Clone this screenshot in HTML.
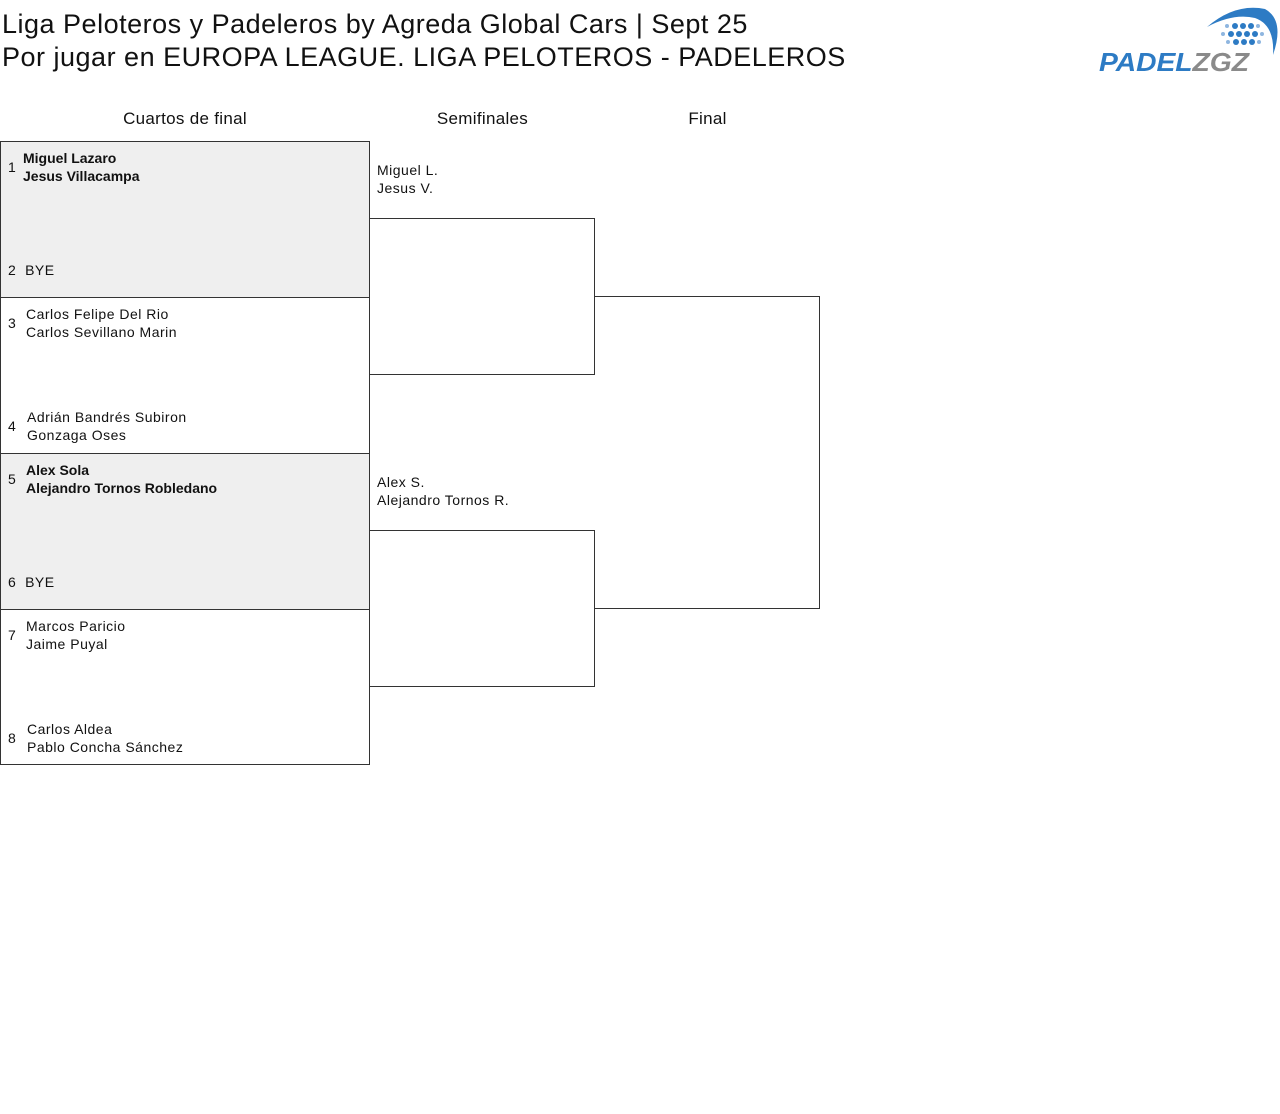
<!DOCTYPE html>
<html><head><meta charset="utf-8"><style>
body{margin:0;width:1280px;height:1114px;background:#fff;font-family:"Liberation Sans",sans-serif;color:#111;position:relative;overflow:hidden}
.a{position:absolute}
.t{font-size:27px;line-height:33px;left:2px;top:8px;letter-spacing:0.5px;font-weight:500}
.h{font-size:17px;top:109px;text-align:center;letter-spacing:0.3px}
.box{position:absolute;border:1px solid #333;box-sizing:border-box}
.s{font-size:14px;line-height:18px;position:absolute;letter-spacing:0.5px}
.b{font-weight:bold;letter-spacing:0}
</style></head><body>
<div class="a t">Liga Peloteros y Padeleros by Agreda Global Cars | Sept 25<br>Por jugar en EUROPA LEAGUE. LIGA PELOTEROS - PADELEROS</div>
<svg class="a" style="left:1095px;top:5px" width="185" height="70" viewBox="0 0 185 70">
<path d="M112 22 Q140 -2 170 4 Q190 15 178 50 Q180 20 160 13 Q138 8 112 22Z" fill="#2d7bc4"/>
<g fill="#2d7bc4"><circle cx="140" cy="21" r="3"/><circle cx="148" cy="21" r="3"/><circle cx="156" cy="21" r="3"/><circle cx="136" cy="29" r="3"/><circle cx="144" cy="29" r="3"/><circle cx="152" cy="29" r="3"/><circle cx="160" cy="29" r="3"/><circle cx="141" cy="37" r="3"/><circle cx="149" cy="37" r="3"/><circle cx="157" cy="37" r="3"/></g>
<g fill="#8fb6e0"><circle cx="128" cy="29" r="2"/><circle cx="167" cy="29" r="2"/><circle cx="133" cy="37" r="2"/><circle cx="164" cy="37" r="2"/><circle cx="132" cy="21" r="2"/><circle cx="163" cy="21" r="2"/></g>
<text x="4" y="66" font-family="Liberation Sans" font-weight="bold" font-style="italic" font-size="26" fill="#2d7bc4" textLength="150" lengthAdjust="spacingAndGlyphs">PADEL<tspan fill="#8a8a8a">ZGZ</tspan></text>
</svg>
<div class="a h" style="left:0;width:370px">Cuartos de final</div>
<div class="a h" style="left:370px;width:225px">Semifinales</div>
<div class="a h" style="left:595px;width:225px">Final</div>

<div class="box" style="left:0;top:141px;width:370px;height:157px;background:#efefef"></div>
<div class="box" style="left:0;top:297px;width:370px;height:157px"></div>
<div class="box" style="left:0;top:453px;width:370px;height:157px;background:#efefef"></div>
<div class="box" style="left:0;top:609px;width:370px;height:156px"></div>
<div class="box" style="left:369px;top:218px;width:226px;height:157px;border-left:none"></div>
<div class="box" style="left:369px;top:530px;width:226px;height:157px;border-left:none"></div>
<div class="box" style="left:594px;top:296px;width:226px;height:313px;border-left:none"></div>

<div class="s" style="left:8px;top:158px">1</div>
<div class="s b" style="left:23px;top:149px">Miguel Lazaro<br>Jesus Villacampa</div>
<div class="s" style="left:8px;top:261px">2&nbsp;&nbsp;BYE</div>
<div class="s" style="left:8px;top:314px">3</div>
<div class="s" style="left:26px;top:305px">Carlos Felipe Del Rio<br>Carlos Sevillano Marin</div>
<div class="s" style="left:8px;top:417px">4</div>
<div class="s" style="left:27px;top:408px">Adrián Bandrés Subiron<br>Gonzaga Oses</div>
<div class="s" style="left:8px;top:470px">5</div>
<div class="s b" style="left:26px;top:461px">Alex Sola<br>Alejandro Tornos Robledano</div>
<div class="s" style="left:8px;top:573px">6&nbsp;&nbsp;BYE</div>
<div class="s" style="left:8px;top:626px">7</div>
<div class="s" style="left:26px;top:617px">Marcos Paricio<br>Jaime Puyal</div>
<div class="s" style="left:8px;top:729px">8</div>
<div class="s" style="left:27px;top:720px">Carlos Aldea<br>Pablo Concha Sánchez</div>

<div class="s" style="left:377px;top:161px">Miguel L.<br>Jesus V.</div>
<div class="s" style="left:377px;top:473px">Alex S.<br>Alejandro Tornos R.</div>
</body></html>
